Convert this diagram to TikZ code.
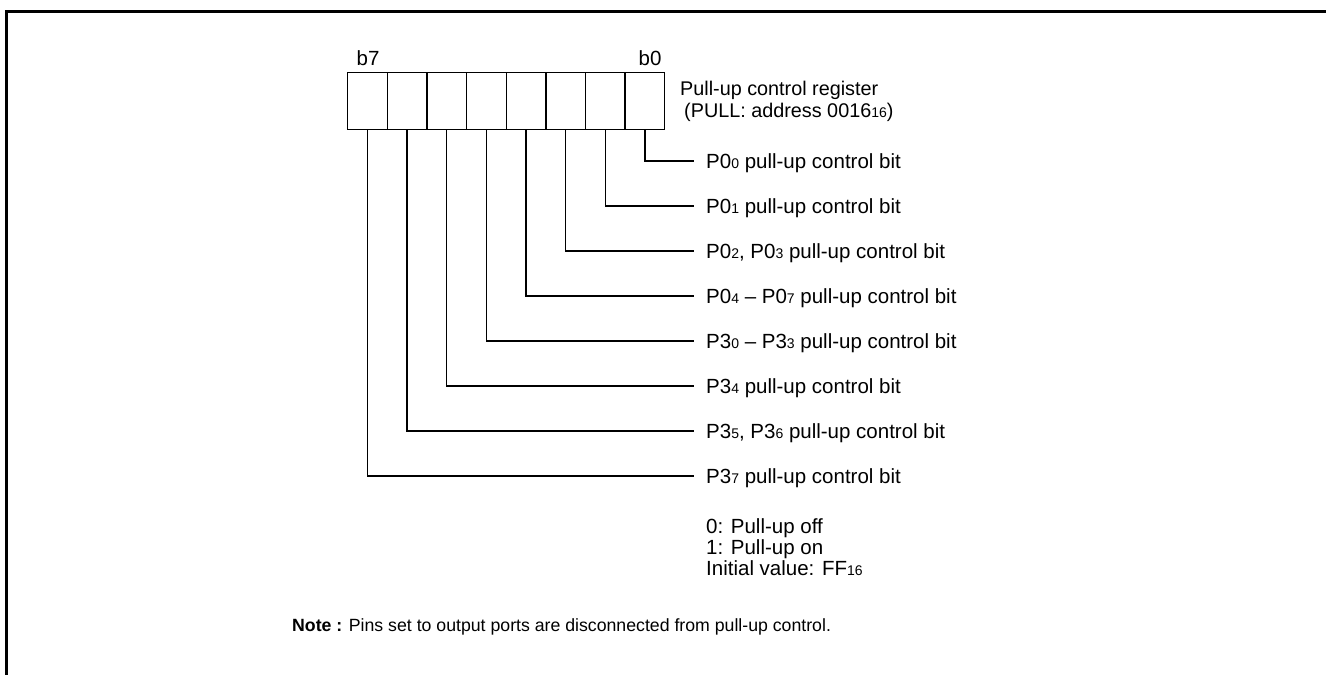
\documentclass[tikz,border=0pt]{standalone}
\usepackage{fontspec}
\setmainfont{Liberation Sans}
\newcommand{\sbs}[1]{{\fontsize{14}{14}\selectfont #1}}
\begin{document}
\begin{tikzpicture}[x=1pt,y=-1pt,
  cell/.style={draw,line width=1.4pt,minimum width=39.625pt,minimum height=57pt,inner sep=0pt,anchor=north west},
  lbl/.style={anchor=west,inner xsep=12pt,inner ysep=0pt,text height=14.7pt,text depth=0pt,font=\fontsize{20.5}{24}\selectfont},
  wire/.style={line width=1.4pt},
  txt/.style={anchor=base west,inner sep=0pt,font=\fontsize{20.5}{24}\selectfont},
  ttl/.style={anchor=base west,inner sep=0pt,font=\fontsize{19.8}{24}\selectfont},
  bitlbl/.style={anchor=base,inner sep=0pt,font=\fontsize{20.5}{24}\selectfont},
  frame/.style={line width=3pt}]
\useasboundingbox (0,0) rectangle (1326,675);
\draw[frame] (6.5,675) -- (6.5,11.5) -- (1326,11.5);
% register cells, c0 = b0 (rightmost)
\foreach \i in {0,...,7}
  \node[cell] (c\i) at ({664-39.625*(\i+1)},72) {};
\node[bitlbl] (b7) at (368,65) {b7};
\node[bitlbl] (b0) at (650,65) {b0};
\node[ttl] (t1) at (680,95) {Pull-up control register};
\node[ttl] (t2) at (684,117) {(PULL: address 0016\sbs{16})};
% bit labels
\node[lbl] (l0) at (694,161) {P0\sbs{0} pull-up control bit};
\node[lbl] (l1) at (694,206) {P0\sbs{1} pull-up control bit};
\node[lbl] (l2) at (694,251) {P0\sbs{2}, P0\sbs{3} pull-up control bit};
\node[lbl] (l3) at (694,296) {P0\sbs{4} -- P0\sbs{7} pull-up control bit};
\node[lbl] (l4) at (694,341) {P3\sbs{0} -- P3\sbs{3} pull-up control bit};
\node[lbl] (l5) at (694,386) {P3\sbs{4} pull-up control bit};
\node[lbl] (l6) at (694,431) {P3\sbs{5}, P3\sbs{6} pull-up control bit};
\node[lbl] (l7) at (694,476) {P3\sbs{7} pull-up control bit};
\foreach \i in {0,...,7}
  \draw[wire] (c\i.south) |- (l\i.west);
% legend
\node[txt] (g1) at (706,533) {0: Pull-up off};
\node[txt] (g2) at (706,554) {1: Pull-up on};
\node[txt] (g3) at (706,575) {Initial value: FF\sbs{16}};
% note
\node[anchor=base west,inner sep=0pt,font=\fontsize{17.7}{21}\selectfont] (note) at (292,631)
  {\textbf{Note :} Pins set to output ports are disconnected from pull-up control.};
\end{tikzpicture}
\end{document}
